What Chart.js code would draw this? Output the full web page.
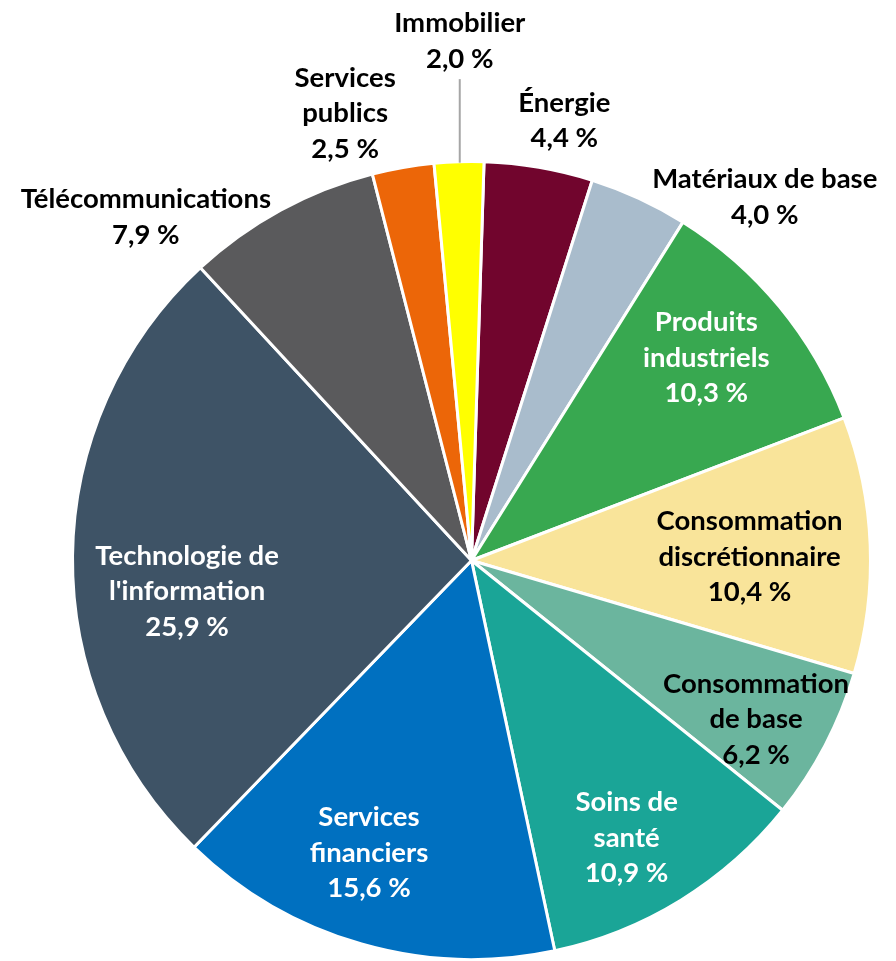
<!DOCTYPE html>
<html>
<head>
<meta charset="utf-8">
<script src="https://cdn.jsdelivr.net/npm/chart.js@4.4.1/dist/chart.umd.min.js"></script>
<style>
    html, body { margin: 0; padding: 0; background: #fff; }
    #wrap { width: 896px; height: 961px; }
</style>
</head>
<body>
<div id="wrap"><canvas id="sectorChart" width="896" height="961"></canvas></div>
<script>
// sectors, clockwise from the top
const sectors = [
    ['Énergie'],
    ['Matériaux de base'],
    ['Produits', 'industriels'],
    ['Consommation', 'discrétionnaire'],
    ['Consommation', 'de base'],
    ['Soins de', 'santé'],
    ['Services', 'financiers'],
    ['Technologie de', "l'information"],
    ['Télécommunications'],
    ['Services', 'publics'],
    ['Immobilier']
];
const weights = [4.4, 4.0, 10.3, 10.4, 6.2, 10.9, 15.6, 25.9, 7.9, 2.5, 2.0];

const sliceColors = ['#71052D', '#A9BCCC', '#38A850', '#F9E49A', '#6BB59E', '#1AA597',
                     '#0070C0', '#3E5366', '#5A5A5C', '#EC6608', '#FFFF00'];
const textColors = ['#000', '#000', '#fff', '#000', '#000', '#fff', '#fff', '#fff', '#000', '#000', '#000'];
// label placement: [radius factor, angle shift from slice middle in degrees]
const labelPlace = [[1.127, 2.2], [1.17, 14.1], [0.777, -1.3], [0.697, 1.45], [0.817, 1.6], [0.797, 2.45],
                    [0.777, 3.3], [0.717, -6.8], [1.186, -14.9], [1.164, -5.9], [1.302, 0.5]];
const leaderLine = 10; // Immobilier gets a line down to its slice

function formatPct(v) {
    return v.toFixed(1).replace('.', ',') + ' %';
}

const sliceLabels = {
    id: 'sliceLabels',
    afterDatasetsDraw(chart) {
        const ctx = chart.ctx;
        const arcs = chart.getDatasetMeta(0).data;
        const lineH = 35.5;
        ctx.save();
        ctx.font = 'bold 27.5px Lato, "Open Sans", sans-serif';
        ctx.textAlign = 'center';
        ctx.textBaseline = 'middle';
        arcs.forEach((arc, i) => {
            const mid = (arc.startAngle + arc.endAngle) / 2 + labelPlace[i][1] * Math.PI / 180;
            const r = arc.outerRadius * labelPlace[i][0];
            const x = arc.x + Math.cos(mid) * r;
            const y = arc.y + Math.sin(mid) * r;
            const lines = sectors[i].concat([formatPct(weights[i])]);
            const top = y - (lines.length - 1) * lineH / 2;
            ctx.fillStyle = textColors[i];
            lines.forEach((t, k) => ctx.fillText(t, x, top + k * lineH));

            if (i === leaderLine) {
                const dx = x - arc.x;
                const yEdge = arc.y - Math.sqrt(arc.outerRadius * arc.outerRadius - dx * dx);
                ctx.strokeStyle = '#A6A6A6';
                ctx.lineWidth = 2;
                ctx.beginPath();
                ctx.moveTo(x, y + 38);
                ctx.lineTo(x, yEdge + 1);
                ctx.stroke();
            }
        });
        ctx.restore();
    }
};

const ctx = document.getElementById('sectorChart').getContext('2d');
new Chart(ctx, {
    type: 'pie',
    data: {
        labels: sectors.map(s => s.join(' ')),
        datasets: [{
            data: weights,
            backgroundColor: sliceColors,
            borderColor: '#ffffff',
            borderWidth: 3
        }]
    },
    options: {
        responsive: false,
        animation: false,
        rotation: 1.8,
        events: [],
        layout: {
            padding: { left: 70, right: 23, top: 160, bottom: -2 }
        },
        plugins: {
            legend: { display: false },
            tooltip: { enabled: false }
        }
    },
    plugins: [sliceLabels]
});
</script>
</body>
</html>
